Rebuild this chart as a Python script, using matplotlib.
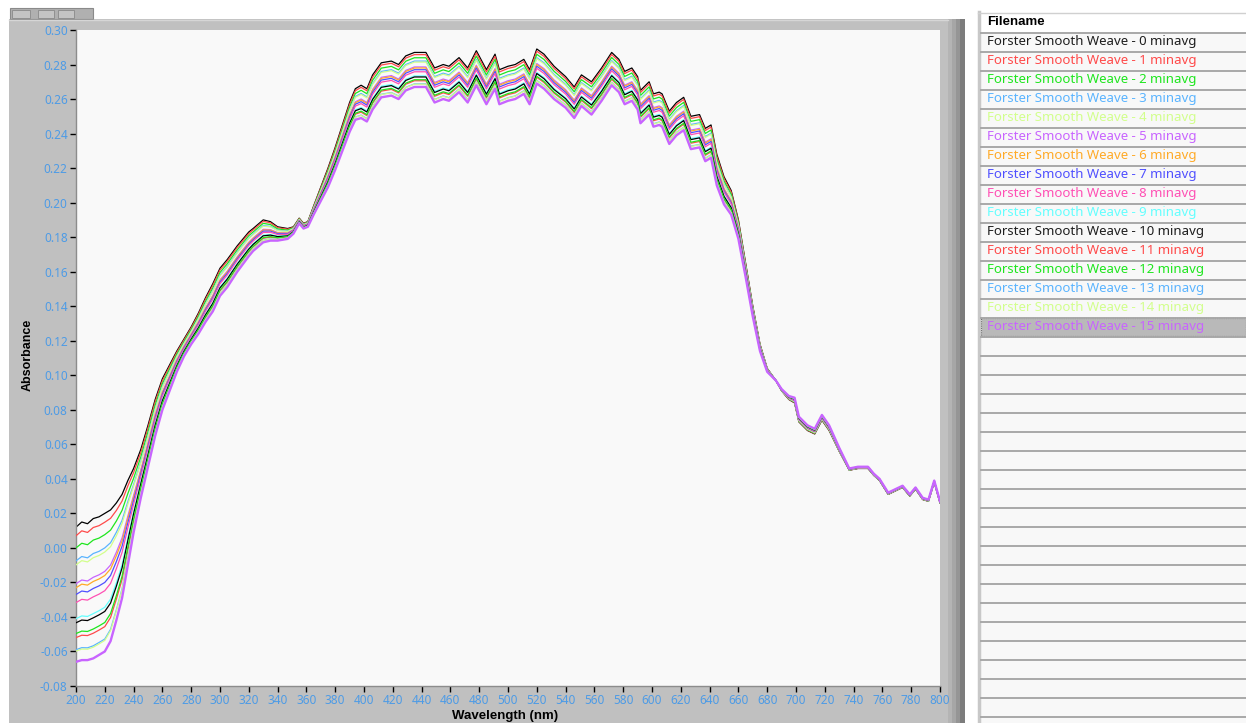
"""Absorbance spectra of Forster Smooth Weave vs. averaging time, with file list."""
import matplotlib
matplotlib.use("Agg")
import matplotlib.pyplot as plt
from matplotlib.patches import Rectangle
import numpy as np

plt.rcParams["font.family"] = ["Noto Sans", "DejaVu Sans"]
BOLD = ["Liberation Sans", "DejaVu Sans"]

W, H = 1246, 723

# wavelength grid (nm) and absorbance of file 0 (upper edge of the bundle)
wavelength = [200, 204, 208, 212, 216, 220, 224, 228, 232, 236, 240, 245, 250, 255, 260,
              265, 270, 275, 280, 285, 290, 295, 300, 305, 312, 320, 323, 330, 335, 340,
              347, 351, 355, 358, 361, 365, 370, 375, 380, 385, 390, 394, 398, 402, 406,
              412, 419, 424, 429, 435, 443, 449, 455, 459, 466, 472, 478, 485, 491, 494,
              500, 505, 511, 515, 520, 525, 532, 540, 546, 551, 558, 565, 572, 577, 581,
              586, 590, 592, 598, 601, 605, 607, 612, 617, 622, 627, 633, 637, 641, 645,
              650, 655, 660, 665, 670, 675, 680, 686, 690, 695, 699, 702, 708, 713, 718,
              723, 730, 737, 743, 750, 754, 758, 764, 769, 774, 779, 783, 788, 792, 796, 800]
abs_top = [0.012, 0.015, 0.014, 0.017, 0.018, 0.020, 0.022, 0.026, 0.031, 0.039, 0.046, 0.057, 0.071, 0.086, 0.098,
           0.106, 0.114, 0.121, 0.128, 0.136, 0.145, 0.153, 0.162, 0.167, 0.175, 0.183, 0.185, 0.190, 0.189, 0.186,
           0.185, 0.186, 0.191, 0.188, 0.189, 0.198, 0.209, 0.220, 0.232, 0.245, 0.258, 0.266, 0.268, 0.266, 0.274,
           0.281, 0.282, 0.280, 0.285, 0.287, 0.287, 0.278, 0.280, 0.279, 0.284, 0.278, 0.288, 0.277, 0.286, 0.277,
           0.279, 0.280, 0.283, 0.277, 0.289, 0.286, 0.279, 0.273, 0.267, 0.274, 0.270, 0.278, 0.287, 0.283, 0.276,
           0.278, 0.273, 0.265, 0.270, 0.263, 0.264, 0.263, 0.253, 0.258, 0.261, 0.250, 0.251, 0.243, 0.245, 0.228,
           0.215, 0.207, 0.190, 0.165, 0.140, 0.118, 0.104, 0.097, 0.091, 0.086, 0.084, 0.073, 0.068, 0.066, 0.074,
           0.068, 0.056, 0.045, 0.046, 0.046, 0.042, 0.039, 0.031, 0.033, 0.035, 0.030, 0.034, 0.028, 0.027, 0.038, 0.026]
# drop from file 0 down to file 15 at the same wavelengths
band_width = [0.078, 0.080, 0.079, 0.081, 0.080, 0.080, 0.076, 0.068, 0.060, 0.049, 0.037, 0.028, 0.024, 0.021, 0.018,
              0.015, 0.012, 0.010, 0.010, 0.012, 0.014, 0.016, 0.016, 0.016, 0.015, 0.014, 0.013, 0.013, 0.011, 0.008,
              0.006, 0.004, 0.003, 0.003, 0.003, 0.005, 0.008, 0.011, 0.013, 0.015, 0.017, 0.018, 0.019, 0.019, 0.020,
              0.020, 0.020, 0.020, 0.020, 0.020, 0.020, 0.020, 0.020, 0.020, 0.020, 0.020, 0.020, 0.020, 0.020, 0.020,
              0.020, 0.020, 0.020, 0.020, 0.020, 0.020, 0.019, 0.018, 0.018, 0.018, 0.019, 0.019, 0.019, 0.019, 0.019,
              0.019, 0.019, 0.019, 0.019, 0.019, 0.019, 0.019, 0.019, 0.019, 0.019, 0.019, 0.019, 0.019, 0.019, 0.018,
              0.016, 0.014, 0.011, 0.008, 0.006, 0.004, 0.002, 0.000, -0.001, -0.002, -0.003, -0.003, -0.003, -0.003, -0.003,
              -0.003, -0.002, -0.001, -0.001, -0.001, -0.001, -0.001, -0.001, -0.001, -0.001, -0.001, -0.001, -0.001, -0.001, -0.001, -0.001]
# where each file sits inside the bundle (0 = top, 1 = bottom)
band_pos = [0.0, 0.064, 0.154, 0.25, 0.28, 0.42, 0.45, 0.50, 0.56, 0.68, 0.71, 0.82, 0.79, 0.91, 0.92, 1.0]

minutes = list(range(16))
file_names = ["Forster Smooth Weave - %d minavg" % m for m in minutes]
file_colors = ["#000000", "#ff4a4a", "#1ee61e", "#5ab4ff", "#d2ff8c", "#c864ff", "#ffaa28", "#5050ff",
               "#ff50b4", "#64ffff", "#000000", "#ff4a4a", "#1ee61e", "#5ab4ff", "#d2ff8c", "#c864ff"]
selected = 15

x_ticks = list(range(200, 801, 20))
y_ticks = [-0.08, -0.06, -0.04, -0.02, 0.00, 0.02, 0.04, 0.06, 0.08, 0.10, 0.12, 0.14,
           0.16, 0.18, 0.20, 0.22, 0.24, 0.26, 0.28, 0.30]

fig = plt.figure(figsize=(W / 100, H / 100), dpi=100)
fig.patch.set_facecolor("white")

# background canvas in pixel units (panel, toolbar, table)
bg = fig.add_axes([0, 0, 1, 1])
bg.set_xlim(0, W); bg.set_ylim(H, 0); bg.axis("off")

# graph panel with shaded right edge
bg.add_patch(Rectangle((9, 19), 940, H - 19, fc="#c0c0c0", ec="none"))
for x0, c in [(948, "#b4b4b4"), (952, "#a6a6a6"), (956, "#959595"), (960, "#7c7c7c")]:
    bg.add_patch(Rectangle((x0, 19), 5, H - 19, fc=c, ec="none"))
bg.plot([9, 948], [19.5, 19.5], color="#d6d6d6", lw=1)
# palette buttons
bg.add_patch(Rectangle((10, 8), 83, 11, fc="#b0b0b0", ec="#8a8a8a", lw=0.8))
for bx in [12, 38, 58]:
    bg.add_patch(Rectangle((bx, 10), 18 if bx == 12 else 16, 8, fc="#c4c4c4", ec="#8a8a8a", lw=0.6))

# file list table
tx0 = 978
bg.add_patch(Rectangle((tx0, 12), W - tx0, H - 12, fc="#f8f8f8", ec="none"))
bg.add_patch(Rectangle((tx0, 12), W - tx0, 20, fc="white", ec="none"))
bg.plot([tx0 + 1, tx0 + 1], [12, H], color="#c8c8c8", lw=2.5)
bg.plot([tx0, W], [12.5, 12.5], color="#d0d0d0", lw=1)
bg.text(987, 22, "Filename", fontsize=9.5, fontweight="bold", family=BOLD,
        va="center", ha="left", color="black")
row_h = 19
bg.add_patch(Rectangle((tx0 + 3, 318), W - tx0 - 3, row_h - 1, fc="#b9b9b9", ec="#555555",
                       lw=0.8, ls=(0, (1, 1))))
k = 0
while 32.5 + row_h * k < H:
    y = 32.5 + row_h * k
    bg.plot([tx0 + 3, W], [y, y], color="#a8a8a8", lw=1.4)
    k += 1
for i, (name, c) in enumerate(zip(file_names, file_colors)):
    bg.text(987, 41.5 + row_h * i, name, fontsize=9.5, va="center", ha="left",
            color="#1e1e1e" if c == "#000000" else c)

# axis titles
bg.text(28, 355, "Absorbance", rotation=90, fontsize=9, fontweight="bold", family=BOLD,
        ha="center", va="center")
bg.text(505, 716, "Wavelength (nm)", fontsize=9.5, fontweight="bold", family=BOLD,
        ha="center", va="center")

# spectra
ax = fig.add_axes([76 / W, (H - 686) / H, 864 / W, 656 / H])
ax.set_facecolor("#f9f9f9")
wl = np.array(wavelength)
top = np.array(abs_top)
bw = np.array(band_width)
for i, c in enumerate(file_colors):
    ax.plot(wl, top - band_pos[i] * bw, color=c, lw=1.7 if i == selected else 0.9, zorder=2 + i)

ax.set_xlim(200, 800); ax.set_ylim(-0.08, 0.30)
ax.set_xticks(x_ticks); ax.set_yticks(y_ticks)
ax.set_yticklabels(["%.2f" % v for v in y_ticks])
ax.tick_params(direction="out", length=4, width=1, color="black", labelcolor="#4d9be6",
               labelsize=8.5, pad=2)
for s in ["top", "right"]:
    ax.spines[s].set_visible(False)
for s in ["left", "bottom"]:
    ax.spines[s].set_color("#8c8c8c")
    ax.spines[s].set_linewidth(1)

fig.savefig("out.png", dpi=100)
